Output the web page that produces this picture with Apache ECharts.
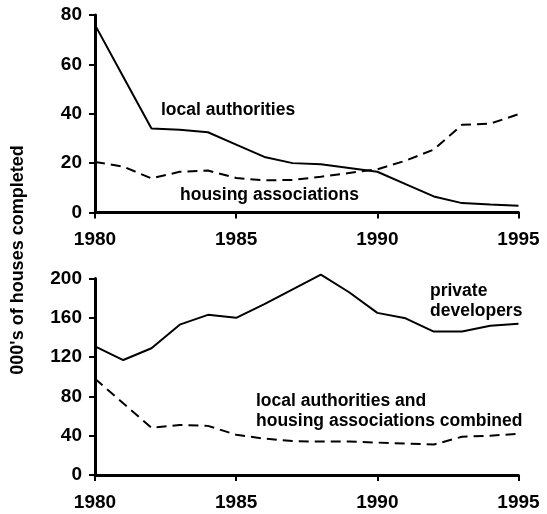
<!DOCTYPE html>
<html>
<head>
<meta charset="utf-8">
<script src="https://cdn.jsdelivr.net/npm/echarts@6/dist/echarts.min.js"></script>
<style>
  html, body { margin: 0; padding: 0; background: #fff; }
  #chart { width: 547px; height: 514px; }
</style>
</head>
<body>
<div id="chart"></div>
<script>
// Housing completions, thousands, 1980-1995
const years = [1980, 1981, 1982, 1983, 1984, 1985, 1986, 1987, 1988, 1989, 1990, 1991, 1992, 1993, 1994, 1995];
const localAuthorities   = [76, 55, 34, 33.5, 32.5, 27.5, 22.5, 20, 19.5, 18, 16.5, 11.5, 6.5, 3.8, 3.2, 2.7];
const housingAssociations = [20.5, 18.6, 13.8, 16.5, 17, 14, 13, 13.2, 14.5, 16, 17.5, 21, 25.5, 35.5, 36, 39.8];
const privateDevelopers  = [131, 117, 129, 153, 163, 160, 174, 189, 204, 186, 165, 159.5, 146, 146, 152, 154];
const combined           = [98, 73, 48, 51, 50, 41, 37, 34.5, 34, 34, 33, 32, 31, 39, 40, 42];

const xTicks = { min: 1980, max: 1995, interval: 5 };
const topTicks = { min: 0, max: 80, interval: 20 };
const bottomTicks = { min: 0, max: 200, interval: 40 };

const FONT = '"Liberation Sans", Arial, sans-serif';
const ink = '#000';

const pairs = vals => years.map((y, i) => [y, vals[i]]);

function xAxis(gridIndex) {
  return {
    type: 'value', gridIndex,
    min: xTicks.min, max: xTicks.max, interval: xTicks.interval,
    splitLine: { show: false },
    axisLine: { show: true, onZero: false, lineStyle: { color: ink, width: 3 } },
    axisTick: { show: true, length: 6, lineStyle: { color: ink, width: 2 } },
    axisLabel: { color: ink, fontFamily: FONT, fontWeight: 'bold', fontSize: 19, margin: 18,
                 formatter: v => String(v) }
  };
}
function yAxis(gridIndex, t) {
  return {
    type: 'value', gridIndex,
    min: t.min, max: t.max, interval: t.interval,
    splitLine: { show: false },
    axisLine: { show: true, onZero: false, lineStyle: { color: ink, width: 3 } },
    axisTick: { show: true, length: 6, lineStyle: { color: ink, width: 2 } },
    axisLabel: { color: ink, fontFamily: FONT, fontWeight: 'bold', fontSize: 19, margin: 13,
                 formatter: v => String(v) }
  };
}
function line(name, vals, xi, dashed) {
  return {
    name, type: 'line', xAxisIndex: xi, yAxisIndex: xi,
    data: pairs(vals), symbol: 'none', smooth: false, clip: false,
    lineStyle: { color: ink, width: 2, type: dashed ? [10, 6] : 'solid' },
    emphasis: { disabled: true }
  };
}
function note(text, left, top) {
  return {
    type: 'text', left, top,
    style: { text, fill: ink, font: 'bold 17.5px ' + FONT, lineHeight: 20 }
  };
}

const chart = echarts.init(document.getElementById('chart'), null, { renderer: 'canvas' });
chart.setOption({
  animation: false,
  backgroundColor: '#fff',
  grid: [
    { left: 95, right: 28.5, top: 15, height: 197.5 },
    { left: 95, right: 28.5, top: 278.5, height: 196.5 }
  ],
  xAxis: [xAxis(0), xAxis(1)],
  yAxis: [yAxis(0, topTicks), yAxis(1, bottomTicks)],
  series: [
    line('local authorities', localAuthorities, 0, false),
    line('housing associations', housingAssociations, 0, true),
    line('private developers', privateDevelopers, 1, false),
    line('local authorities and housing associations combined', combined, 1, true)
  ],
  graphic: [
    {
      type: 'text', x: 18, y: 260, rotation: Math.PI / 2,
      style: { text: "000's of houses completed", fill: ink, font: 'bold 18px ' + FONT,
               textAlign: 'center', textVerticalAlign: 'middle' }
    },
    note('local authorities', 161, 100),
    note('housing associations', 180, 185),
    note('private\ndevelopers', 430, 281),
    note('local authorities and\nhousing associations combined', 256, 391)
  ]
});
</script>
</body>
</html>
